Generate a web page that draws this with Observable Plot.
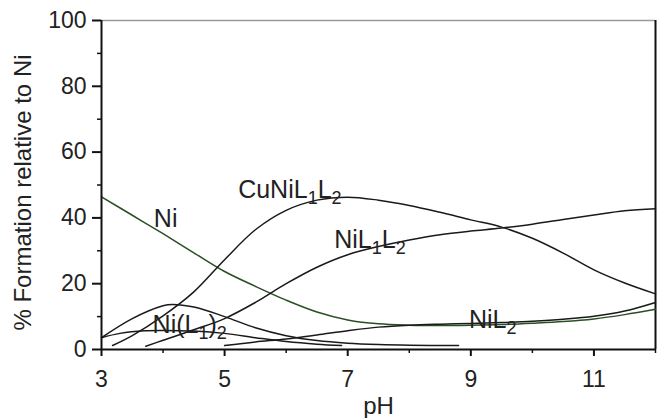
<!DOCTYPE html>
<html>
<head>
<meta charset="utf-8">
<script src="https://cdn.jsdelivr.net/npm/d3@7"></script>
<script src="https://cdn.jsdelivr.net/npm/@observablehq/plot@0.6"></script>
<style>
  html, body { margin: 0; padding: 0; background: white; }
</style>
</head>
<body>
<div id="chart"></div>
<script>
// ---- data ----
const yTicks = [0, 20, 40, 60, 80, 100];
const yMinor = [10, 30, 50, 70, 90];
const xTicks = [3, 5, 7, 9, 11];
const xMinor = [4, 6, 8, 10, 12];

const pH_Ni = [3, 3.5, 4, 4.5, 5, 5.5, 6, 6.5, 7, 7.5, 8, 8.5, 9, 9.5, 10, 10.5, 11, 11.5, 12];
const Ni    = [46.4, 40.8, 35.2, 29.4, 23.7, 19.2, 15.0, 11.4, 9.0, 7.8, 7.4, 7.3, 7.4, 7.6, 8.0, 8.5, 9.3, 10.6, 12.2];

const pH_CuNiL1L2 = [3.18, 3.5, 4, 4.5, 5, 5.5, 6, 6.5, 7, 7.5, 8, 8.5, 9, 9.5, 10, 10.5, 11, 11.5, 12];
const CuNiL1L2    = [1.2, 4.2, 10.2, 17.5, 27.3, 36.4, 42.3, 45.4, 46.3, 45.4, 43.8, 41.7, 39.4, 37.2, 33.8, 29.3, 24.2, 20.2, 16.9];

const pH_NiL1L2 = [3.72, 4, 4.5, 5, 5.5, 6, 6.5, 7, 7.5, 8, 8.5, 9, 9.5, 10, 10.5, 11, 11.5, 12];
const NiL1L2    = [1.0, 2.8, 6.0, 9.4, 14.3, 20.0, 25.0, 28.8, 31.3, 33.3, 34.9, 36.0, 36.9, 38.1, 39.5, 40.9, 42.2, 42.8];

const pH_NiL2 = [5, 5.5, 6, 6.5, 7, 7.5, 8, 8.5, 9, 9.5, 10, 10.5, 11, 11.5, 12];
const NiL2    = [1.2, 2.3, 3.2, 4.4, 5.7, 6.8, 7.4, 7.7, 7.9, 8.2, 8.6, 9.2, 10.1, 11.7, 14.3];

const pH_NiL1_2 = [3, 3.3, 3.7, 4, 4.5, 5, 5.5, 6, 6.5, 6.9];
const NiL1_2    = [3.6, 4.9, 5.7, 5.8, 5.6, 4.9, 3.6, 2.4, 1.6, 1.2];

const pH_hump = [3, 3.5, 4, 4.15, 4.5, 5, 5.5, 6, 6.5, 7, 7.5, 8, 8.8];
const hump    = [3.6, 9.4, 13.3, 13.7, 12.9, 10.0, 6.6, 4.2, 2.7, 1.9, 1.5, 1.3, 1.2];

const labelNames = ["Ni", "CuNiL1L2", "NiL1L2", "NiL2", "Ni(L1)2"];
const labelX     = [3.85, 5.22, 6.78, 8.97, 3.83];
const labelY     = [37.1, 46.2, 31.0, 6.4, 4.9];

// ---- build series ----
const toPts = (xs, ys) => xs.map((x, i) => ({x, y: ys[i]}));
const series = [
  {pts: toPts(pH_Ni, Ni), color: "#2b4f24"},
  {pts: toPts(pH_CuNiL1L2, CuNiL1L2), color: "#1a1a1a"},
  {pts: toPts(pH_NiL1L2, NiL1L2), color: "#1a1a1a"},
  {pts: toPts(pH_NiL2, NiL2), color: "#1a1a1a"},
  {pts: toPts(pH_NiL1_2, NiL1_2), color: "#1a1a1a"},
  {pts: toPts(pH_hump, hump), color: "#1a1a1a"}
];
const labels = labelNames.map((t, i) => ({t, x: labelX[i], y: labelY[i]}));

const font = "'Liberation Sans', Arial, Helvetica, sans-serif";

const chart = Plot.plot({
  width: 659,
  height: 418,
  marginLeft: 101,
  marginRight: 4,
  marginTop: 20,
  marginBottom: 69,
  style: {fontFamily: font, fontSize: "23px", color: "#222", background: "white"},
  x: {domain: [3, 12]},
  y: {domain: [0, 100]},
  marks: [
    Plot.ruleY([100], {stroke: "#9a9a9a", strokeWidth: 1.3}),
    Plot.ruleX([12], {stroke: "#111", strokeWidth: 2}),
    ...series.map(s => Plot.line(s.pts, {x: "x", y: "y", stroke: s.color, strokeWidth: 1.5, curve: "catmull-rom"})),
    Plot.axisY({ticks: yTicks, tickSize: 9, tickPadding: 6, fontSize: 23, label: null, strokeWidth: 2, stroke: "#111"}),
    Plot.axisY({ticks: yMinor, tickSize: 4, tickFormat: () => "", label: null, strokeWidth: 1.5, stroke: "#111"}),
    Plot.axisX({ticks: xTicks, tickSize: 7, tickPadding: 14, fontSize: 23, label: null, strokeWidth: 2, stroke: "#111"}),
    Plot.axisX({ticks: xMinor, tickSize: 4, tickFormat: () => "", label: null, strokeWidth: 1.5, stroke: "#111"}),
    Plot.ruleX([3], {stroke: "#111", strokeWidth: 2}),
    Plot.ruleY([0], {stroke: "#111", strokeWidth: 2}),
    Plot.text(labels, {x: "x", y: "y", text: "t", textAnchor: "start", lineAnchor: "bottom", fontSize: 25, fill: "#222", className: "sublbl"}),
    Plot.text(["pH"], {frameAnchor: "bottom", textAnchor: "middle", dy: 64, lineAnchor: "bottom", fontSize: 24, fill: "#222"}),
    Plot.text(["% Formation relative to Ni"], {frameAnchor: "left", textAnchor: "middle", rotate: -90, dx: -78.5, dy: 7.5, lineAnchor: "middle", fontSize: 24, fill: "#222"})
  ]
});

document.getElementById("chart").appendChild(chart);

// render digits in the species labels as subscripts
d3.select(chart).selectAll(".sublbl text").each(function() {
  const el = d3.select(this);
  const s = this.textContent;
  el.text("");
  let sub = false;
  for (const ch of s) {
    const isDigit = /[0-9]/.test(ch);
    const ts = el.append("tspan").text(ch);
    if (isDigit && !sub) { ts.attr("dy", 6).attr("font-size", 18); sub = true; }
    else if (isDigit && sub) { ts.attr("font-size", 18); }
    else if (!isDigit && sub) { ts.attr("dy", -6); sub = false; }
  }
});
</script>
</body>
</html>
